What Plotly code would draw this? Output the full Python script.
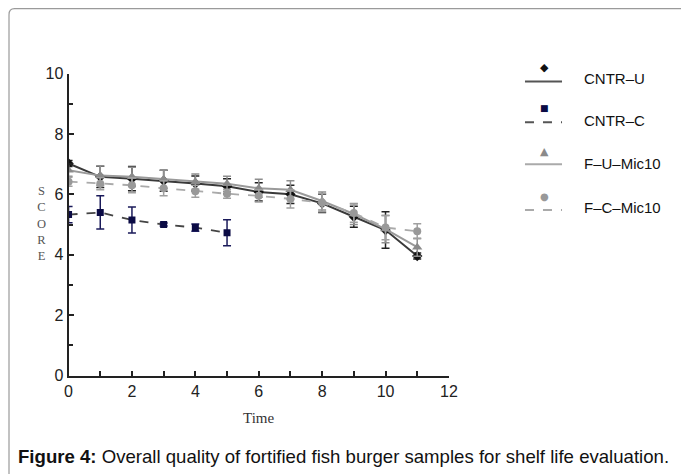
import plotly.graph_objects as go

# ---- data ----
time = [0, 1, 2, 3, 4, 5, 6, 7, 8, 9, 10, 11]
time_c = [0, 1, 2, 3, 4, 5]
series_names = ["CNTR-U", "CNTR-C", "F-U-Mic10", "F-C-Mic10"]
cntr_u = [7.02, 6.58, 6.52, 6.45, 6.36, 6.27, 6.08, 6.00, 5.70, 5.26, 4.82, 3.96]
cntr_u_err = [0.10, 0.35, 0.40, 0.35, 0.25, 0.25, 0.30, 0.30, 0.30, 0.35, 0.60, 0.10]
cntr_c = [5.33, 5.40, 5.15, 5.00, 4.90, 4.73]
cntr_c_err = [0.27, 0.55, 0.43, 0.05, 0.12, 0.43]
fu_mic10 = [6.80, 6.62, 6.58, 6.50, 6.42, 6.35, 6.20, 6.15, 5.78, 5.35, 4.85, 4.25]
fu_mic10_err = [0.20, 0.32, 0.32, 0.30, 0.25, 0.25, 0.30, 0.30, 0.30, 0.35, 0.45, 0.30]
fc_mic10 = [6.42, 6.35, 6.30, 6.20, 6.10, 6.02, 5.95, 5.85, 5.72, 5.38, 4.90, 4.78]
fc_mic10_err = [0.15, 0.20, 0.25, 0.25, 0.20, 0.15, 0.20, 0.30, 0.30, 0.30, 0.40, 0.25]
y_ticks = [0, 2, 4, 6, 8, 10]
x_ticks = [0, 2, 4, 6, 8, 10, 12]

W, H = 681, 474
# screen placement compensation (picture px -> page px)
AX, BX, AY, BY = 0.98, 3.5, 0.967, 7.3
def px(x): return ((x - BX) / AX) / W
def py(y): return 1 - ((y - BY) / AY) / H

styles = [
    dict(x=time, y=cntr_u, e=cntr_u_err, line=dict(color="#3a3a3a", width=2),
         marker=dict(symbol="diamond", size=8, color="#111111"), ecol="#222222"),
    dict(x=time_c, y=cntr_c, e=cntr_c_err, line=dict(color="#444444", width=1.8, dash="dash"),
         marker=dict(symbol="square", size=7, color="#0b0b45"), ecol="#1a1a5a"),
    dict(x=time, y=fu_mic10, e=fu_mic10_err, line=dict(color="#9a9a9a", width=2),
         marker=dict(symbol="triangle-up", size=9, color="#8a8a8a"), ecol="#8e8e8e"),
    dict(x=time, y=fc_mic10, e=fc_mic10_err, line=dict(color="#aaaaaa", width=1.8, dash="dash"),
         marker=dict(symbol="circle", size=8, color="#999999"), ecol="#a0a0a0"),
]

fig = go.Figure()
for name, s in zip(series_names, styles):
    fig.add_trace(go.Scatter(
        x=s["x"], y=s["y"], name=name, mode="lines+markers",
        line=s["line"], marker=s["marker"],
        error_y=dict(type="data", array=s["e"], visible=True, color=s["ecol"],
                     thickness=1.5, width=4),
        showlegend=False))

axis_font = dict(family="Liberation Sans, Arial, sans-serif", size=16, color="#222")
fig.update_layout(
    width=W, height=H, margin=dict(l=0, r=0, t=0, b=0),
    paper_bgcolor="white", plot_bgcolor="white",
    xaxis=dict(domain=[px(68), px(448)], range=[0, 12], tickvals=x_ticks,
               showgrid=False, zeroline=False, showline=True, linecolor="#222", linewidth=2,
               ticks="inside", ticklen=5, tickwidth=1.5, tickcolor="#222",
               minor=dict(dtick=1, ticks="inside", ticklen=5, tickwidth=1.5, tickcolor="#222"),
               tickfont=axis_font),
    yaxis=dict(domain=[py(376), py(73)], range=[0, 10], tickvals=y_ticks,
               showgrid=False, zeroline=False, showline=True, linecolor="#222", linewidth=2,
               ticks="inside", ticklen=5, tickwidth=1.5, tickcolor="#222",
               minor=dict(dtick=1, ticks="inside", ticklen=4, tickwidth=1.5, tickcolor="#222"),
               tickfont=axis_font),
)

annotations = []
shapes = []
def ann(x, y, text, font, xanchor="center", align="center"):
    annotations.append(dict(x=px(x), y=py(y), xref="paper", yref="paper", text=text,
                            showarrow=False, xanchor=xanchor, yanchor="middle",
                            font=font, align=align))

serif = "Liberation Serif, Times New Roman, serif"
sans = "Liberation Sans, Arial, sans-serif"
ann(41, 223, "S<br>C<br>O<br>R<br>E", dict(family=serif, size=12.5, color="#555"))
ann(258, 419, "Time", dict(family=serif, size=15, color="#333"))

# custom legend
leg = [
    ("CNTR–U", "◆", "#111111", 11, 67, 81, "solid", "#555555", 78),
    ("CNTR–C", "■", "#0b0b45", 9, 108, 122, "dash", "#555555", 120),
    ("F–U–Mic10", "▲", "#8a8a8a", 11, 151, 164, "solid", "#aaaaaa", 163),
    ("F–C–Mic10", "●", "#999999", 10, 196, 210, "dash", "#aaaaaa", 207),
]
for label, sym, mcol, msize, my, ly, dash, lcol, ty in leg:
    ann(543, my, sym, dict(family="DejaVu Sans", size=msize, color=mcol))
    shapes.append(dict(type="line", xref="paper", yref="paper", x0=px(524), x1=px(561),
                       y0=py(ly), y1=py(ly), line=dict(color=lcol, width=2, dash=dash)))
    ann(581, ty, label, dict(family=sans, size=15, color="#111"), xanchor="left")

# caption
ann(15.5, 457, "<b>Figure 4:</b> Overall quality of fortified fish burger samples for shelf life evaluation.",
    dict(family=sans, size=18.6, color="#111"), xanchor="left")

# outer frame with rounded top-left corner
shapes.append(dict(type="path", xref="paper", yref="paper",
                   path=f"M {px(8.5)},{py(490)} L {px(8.5)},{py(14)} Q {px(8.5)},{py(8)} {px(14)},{py(8)} L {px(700)},{py(8)}",
                   line=dict(color="#9a9a9a", width=1.2)))

fig.update_layout(annotations=annotations, shapes=shapes)
fig.write_html("out.html", config={"displayModeBar": False},
               post_script="document.body.style.margin='0';document.body.style.overflow='hidden';")
